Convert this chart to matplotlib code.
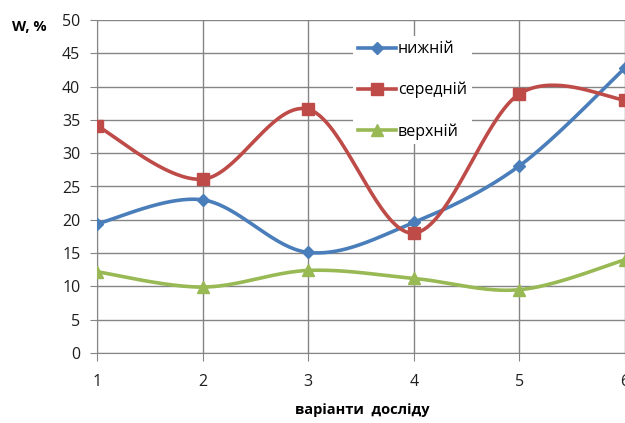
import numpy as np
import matplotlib
matplotlib.use("Agg")
import matplotlib.pyplot as plt

plt.rcParams["font.family"] = ["Open Sans", "DejaVu Sans"]

variants = [1, 2, 3, 4, 5, 6]
lower = [19.4, 23.0, 15.1, 19.6, 28.1, 42.8]
middle = [34.1, 26.1, 36.6, 18.0, 38.9, 38.0]
upper = [12.2, 9.9, 12.4, 11.2, 9.5, 14.0]
series_names = ["нижній", "середній", "верхній"]


def smooth(x, y, steps=40):
    # Catmull-Rom through the points, ends padded by repeating the end point
    x = np.asarray(x, float)
    y = np.asarray(y, float)
    px = np.concatenate([[x[0]], x, [x[-1]]])
    py = np.concatenate([[y[0]], y, [y[-1]]])
    xs, ys = [], []
    t = np.linspace(0, 1, steps)
    for i in range(1, len(px) - 2):
        p0x, p1x, p2x, p3x = px[i - 1:i + 3]
        p0y, p1y, p2y, p3y = py[i - 1:i + 3]
        c1x, c1y = p1x + (p2x - p0x) / 6, p1y + (p2y - p0y) / 6
        c2x, c2y = p2x - (p3x - p1x) / 6, p2y - (p3y - p1y) / 6
        bx = (1 - t) ** 3 * p1x + 3 * (1 - t) ** 2 * t * c1x + 3 * (1 - t) * t ** 2 * c2x + t ** 3 * p2x
        by = (1 - t) ** 3 * p1y + 3 * (1 - t) ** 2 * t * c1y + 3 * (1 - t) * t ** 2 * c2y + t ** 3 * p2y
        xs.append(bx)
        ys.append(by)
    return np.concatenate(xs), np.concatenate(ys)


fig = plt.figure(figsize=(6.25, 4.23), dpi=100)
ax = fig.add_axes([97 / 625, 70 / 423, 528 / 625, 333 / 423])

styles = [
    (lower, "#4A7EBB", "D", 6),
    (middle, "#BE4B48", "s", 9),
    (upper, "#98B954", "^", 9),
]
for (vals, color, marker, ms), name in zip(styles, series_names):
    sx, sy = smooth(variants, vals)
    ax.plot(sx, sy, color=color, lw=2.6, zorder=3)
    ax.plot(variants, vals, linestyle="none", marker=marker, ms=ms,
            color=color, zorder=4)
    ax.plot([], [], color=color, lw=2.6, marker=marker, ms=ms, label=name)

ax.set_xlim(1, 6)
ax.set_ylim(0, 50)
ax.set_xticks(variants)
ax.set_yticks(range(0, 51, 5))
ax.grid(True, color="#858585", lw=1)
ax.set_axisbelow(True)
for side in ["top", "right"]:
    ax.spines[side].set_visible(False)
for side in ["left", "bottom"]:
    ax.spines[side].set_color("#858585")
ax.tick_params(axis="y", length=5, color="#858585", labelsize=11.5, pad=7,
               labelcolor="#1e1e1e")
ax.tick_params(axis="x", length=6, color="#858585", labelsize=11.5, pad=9,
               labelcolor="#1e1e1e")

fig.text(12 / 625, 1 - 27 / 423, "W, %", fontsize=10.5, fontweight="bold",
         va="center", ha="left")
fig.text(362 / 625, 1 - 410 / 423, "варіанти  досліду", fontsize=10.5,
         fontweight="bold", va="center", ha="center")

leg = ax.legend(loc="upper left", bbox_to_anchor=(0.47, 0.975), frameon=True,
                fontsize=11.5, handlelength=2.4, handletextpad=0.1,
                labelspacing=1.55, borderpad=0.3)
leg.get_frame().set_edgecolor("none")
leg.get_frame().set_facecolor("white")
leg.get_frame().set_alpha(1)

fig.savefig("out.png", dpi=100)
